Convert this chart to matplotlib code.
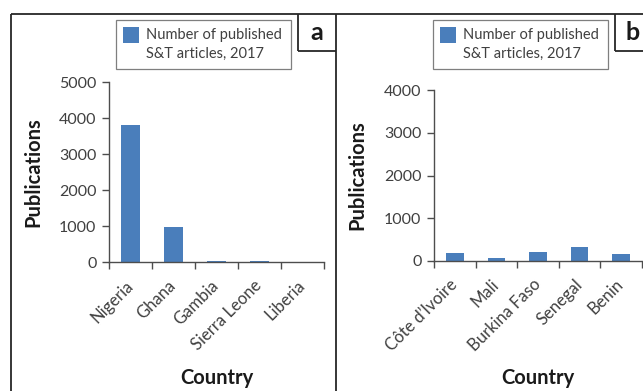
import matplotlib
matplotlib.use("Agg")
import matplotlib.pyplot as plt
from matplotlib.patches import Rectangle
from matplotlib.lines import Line2D
from matplotlib.ticker import FixedLocator

# Published S&T articles, 2017
countries_a = ["Nigeria", "Ghana", "Gambia", "Sierra Leone", "Liberia"]
articles_a = [3810, 975, 35, 35, 12]
yticks_a = [0, 1000, 2000, 3000, 4000, 5000]

countries_b = ["Côte d\u2019Ivoire", "Mali", "Burkina Faso", "Senegal", "Benin"]
articles_b = [195, 75, 215, 330, 170]
yticks_b = [0, 1000, 2000, 3000, 4000]

legend_lines = ["Number of published", "S&T articles, 2017"]
panel_letters = ["a", "b"]

BAR = "#4A7EBB"
AXIS = "#4d4d4d"
TXT = "#404040"
FRAME = "#262626"

plt.rcParams["font.family"] = ["Lato", "DejaVu Sans"]

W, H = 643, 391
fig = plt.figure(figsize=(W / 100, H / 100), dpi=100)


def fx(px):
    return px / W


def fy(py):
    return 1 - py / H


def draw_panel(rect_px, cats, vals, yticks, ylab_x, xlab_y):
    x0, y0, x1, y1 = rect_px  # left, top, right, bottom in pixels
    ax = fig.add_axes([fx(x0), fy(y1), fx(x1 - x0), (y1 - y0) / H])
    pos = list(range(len(cats)))
    ax.bar(pos, vals, width=0.42, color=BAR, zorder=2)
    ax.set_xlim(-0.5, len(cats) - 0.5)
    ax.set_ylim(0, yticks[-1])
    ax.set_yticks(yticks)
    ax.set_yticklabels([str(t) for t in yticks], fontsize=11.5, color=TXT)
    ax.set_xticks(pos)
    ax.set_xticklabels(cats, rotation=45, ha="right", va="center",
                       rotation_mode="anchor", fontsize=12, color=TXT)
    ax.xaxis.set_minor_locator(FixedLocator([p - 0.5 for p in pos] + [pos[-1] + 0.5]))
    ax.tick_params(axis="x", which="major", length=0, pad=15)
    ax.tick_params(axis="x", which="minor", length=5, width=1, color=AXIS, direction="out")
    ax.tick_params(axis="y", length=5, width=1, color=AXIS, pad=4)
    for s in ("top", "right"):
        ax.spines[s].set_visible(False)
    for s in ("left", "bottom"):
        ax.spines[s].set_color(AXIS)
        ax.spines[s].set_linewidth(1.0)
    ax.set_ylabel("Publications", fontsize=14.5, fontweight="bold", color="#1a1a1a")
    ax.yaxis.label.set_va("center")
    ax.yaxis.set_label_coords(ylab_x, 0.5)
    ax.set_xlabel("Country", fontsize=14.5, fontweight="bold", color="#1a1a1a")
    ax.xaxis.label.set_va("center")
    ax.xaxis.set_label_coords(0.5, xlab_y)
    ax.set_facecolor("none")
    return ax


ax_a = draw_panel((109, 82, 324, 262), countries_a, articles_a, yticks_a, -0.353, -0.644)
ax_b = draw_panel((434, 90, 642, 261), countries_b, articles_b, yticks_b, -0.370, -0.684)

# Panel frames
def fline(xs, ys, lw=1.3, color=FRAME):
    fig.add_artist(Line2D([fx(x) for x in xs], [fy(y) for y in ys],
                          transform=fig.transFigure, color=color, lw=lw,
                          solid_capstyle="butt"))

fline([10.5, 10.5], [13.5, 400])
fline([10.5, 660], [13.5, 13.5])
fline([336, 336], [13.5, 400])

# Panel letter boxes
fline([298, 298], [13.5, 51])
fline([298, 336], [51, 51])
fig.text(fx(317), fy(33), panel_letters[0], fontsize=18, fontweight="bold",
         ha="center", va="center", color="#1a1a1a")
fline([615, 615], [13.5, 51])
fline([615, 660], [51, 51])
fig.text(fx(633), fy(33), panel_letters[1], fontsize=18, fontweight="bold",
         ha="center", va="center", color="#1a1a1a")

# Legends
def legend_box(left, right, sw_left, txt_left):
    fig.add_artist(Rectangle((fx(left), fy(69)), fx(right - left), (69 - 20) / H,
                             transform=fig.transFigure, facecolor="white",
                             edgecolor="#7f7f7f", lw=0.9))
    fig.add_artist(Rectangle((fx(sw_left), fy(43)), fx(16), 16 / H,
                             transform=fig.transFigure, facecolor=BAR,
                             edgecolor="none"))
    fig.text(fx(txt_left), fy(39.5), legend_lines[0], fontsize=10.5,
             color=TXT, ha="left", va="baseline")
    fig.text(fx(txt_left), fy(57.5), legend_lines[1], fontsize=10.5,
             color=TXT, ha="left", va="baseline")


legend_box(116, 291, 123, 146)
legend_box(433, 608, 440, 463)

fig.savefig("out.png", dpi=100, facecolor="white")
